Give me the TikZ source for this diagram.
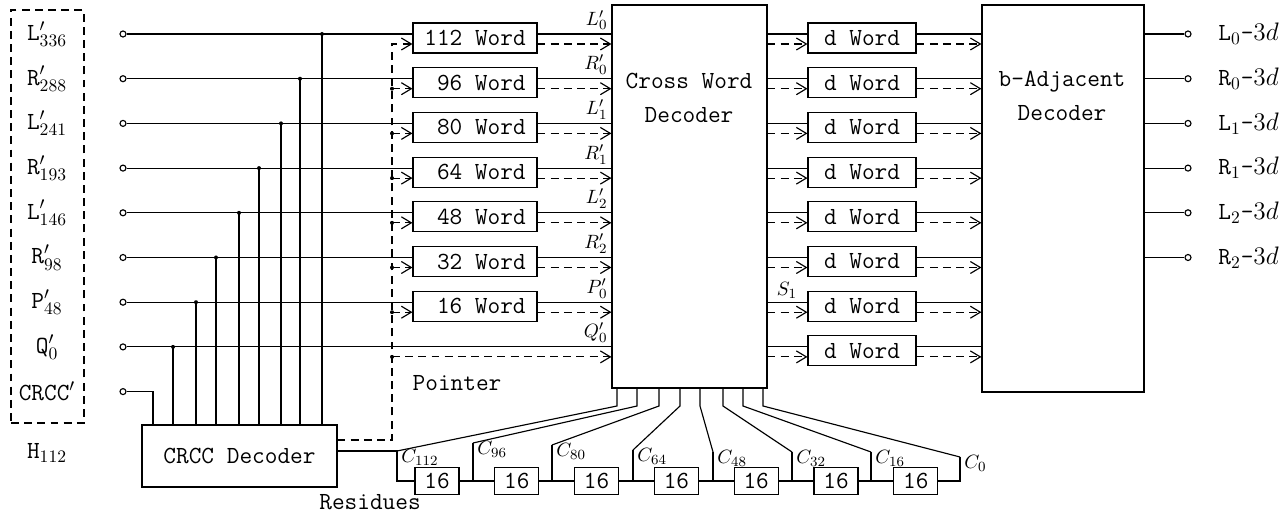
\documentclass[tikz,border=0pt]{standalone}
\usepackage{fontspec}
\setmainfont{Liberation Serif}
\usetikzlibrary{arrows.meta, positioning, calc}

\begin{document}
\begin{tikzpicture}[
    x=0.02cm, y=-0.02cm,
    font=\ttfamily\fontsize{14}{19}\selectfont,
    line width=0.65pt,
    wordbox/.style={rectangle, draw, minimum width=2.48cm, minimum height=0.6cm, inner sep=0pt},
    dbox/.style={rectangle, draw, minimum width=2.16cm, minimum height=0.6cm, inner sep=0pt},
    regbox/.style={rectangle, draw, minimum width=0.88cm, minimum height=0.54cm, inner sep=0pt},
    bigbox/.style={rectangle, draw, inner sep=0pt},
    term/.style={circle, draw, fill=white, inner sep=0pt, minimum size=0.12cm},
    tap/.style={circle, fill, inner sep=0pt, minimum size=0.08cm},
    ptr/.style={dash pattern=on 4.5pt off 3pt},
    arr/.style={-{Straight Barb[length=2mm, width=2.4mm]}},
    hand/.style={font=\fontsize{11}{13}\selectfont}
]
\useasboundingbox (0,0) rectangle (1287,516);

% decoders
\node[bigbox, minimum width=3.1cm, minimum height=7.66cm] (cwd) at (689.5,196.5) {};
\node[align=center] (cwdtxt) at (689,98) {Cross Word\\Decoder};
\node[bigbox, minimum width=3.24cm, minimum height=7.74cm] (bad) at (1063,198.5) {};
\node[align=center] (badtxt) at (1062,96) {b-Adjacent\\Decoder};
\node[bigbox, minimum width=3.9cm, minimum height=1.24cm] (crcc) at (239.5,456) {CRCC Decoder};

% received symbols
\node[draw, ptr, minimum width=1.46cm, minimum height=8.26cm] (inbox) at (47.5,216.5) {};
\foreach \i/\lab/\tx in {0/{L$'_{336}$}/322, 1/{R$'_{288}$}/300, 2/{L$'_{241}$}/281,
                          3/{R$'_{193}$}/259, 4/{L$'_{146}$}/239, 5/{R$'_{98}$}/216,
                          6/{P$'_{48}$}/196, 7/{Q$'_{0}$}/173, 8/{CRCC$'$}/153}
{
  \pgfmathsetmacro{\yy}{34+44.7*\i}
  \node (lab\i) at (47,\yy) {\lab};
  \node[term] (in\i) at (123,\yy) {};
  \coordinate (tap\i) at (\tx,\yy);
  \coordinate (pd\i) at (392,\yy+10);
}
\node (h112) at (47,453) {H$_{112}$};

% delay lines
\foreach \i/\w in {0/112, 1/\phantom{1}96, 2/\phantom{1}80, 3/\phantom{1}64,
                   4/\phantom{1}48, 5/\phantom{1}32, 6/\phantom{1}16}
  \node[wordbox] (wb\i) at (475,34+44.7*\i+4) {\w{} Word};
\foreach \i in {0,...,7}
  \node[dbox] (db\i) at (862,34+44.7*\i+4) {d Word};

% taps to the CRCC decoder
\foreach \i in {0,...,7} {
  \node[tap] (tdot\i) at (tap\i) {};
  \draw (tap\i) -- (tap\i |- crcc.north);
}
\draw (in8) -- (tap8) -- (tap8 |- crcc.north);

% pointer
\coordinate (pcorner) at (392,440);
\draw[ptr, arr] (crcc.east |- pcorner) -- (pcorner) -- (pd0) -- (pd0 -| wb0.west);
\foreach \i in {1,...,6} {
  \node[tap] (pdot\i) at (pd\i) {};
  \draw[ptr, arr] (pd\i) -- (pd\i -| wb\i.west);
}
\node[tap] (pdot7) at (pd7) {};
\node (pointer) at (457,383) {Pointer};

% inputs through the delay lines
\foreach \i in {0,...,6} {
  \draw (in\i) -- (in\i -| wb\i.west);
  \draw (wb\i.east |- in\i) -- (cwd.west |- in\i);
  \draw[ptr, arr] (pd\i -| wb\i.east) -- (pd\i -| cwd.west);
}
\draw (in7) -- (in7 -| cwd.west);
\draw[ptr, arr] (pd7) -- (pd7 -| cwd.west);

\foreach \i/\lab in {0/{$L'_0$}, 1/{$R'_0$}, 2/{$L'_1$}, 3/{$R'_1$},
                     4/{$L'_2$}, 5/{$R'_2$}, 6/{$P'_0$}, 7/{$Q'_0$}}
  \node[hand, anchor=south east, inner sep=2pt] (ol\i) at (cwd.west |- in\i) {\lab};

% cross word decoder to b-adjacent decoder
\foreach \i in {0,...,7} {
  \draw (cwd.east |- in\i) -- (db\i.west |- in\i);
  \draw[ptr, arr] (cwd.east |- pd\i) -- (db\i.west |- pd\i);
  \draw (db\i.east |- in\i) -- (bad.west |- in\i);
  \draw[ptr, arr] (db\i.east |- pd\i) -- (bad.west |- pd\i);
}
\node[hand, anchor=south west, inner sep=2pt, xshift=3pt] (s1) at (cwd.east |- in6) {$S_1$};

% outputs
\foreach \i/\lab in {0/{L$_0$-$3d$}, 1/{R$_0$-$3d$}, 2/{L$_1$-$3d$},
                     3/{R$_1$-$3d$}, 4/{L$_2$-$3d$}, 5/{R$_2$-$3d$}}
{
  \node[term] (out\i) at (1188,34+44.7*\i) {};
  \draw (bad.east |- out\i) -- (out\i);
  \node[anchor=west] (olab\i) at (1212,34+44.7*\i) {\lab};
}

% residue registers
\foreach \k in {0,...,6}
  \node[regbox] (reg\k) at (437+79.8*\k,481) {16};
\foreach \k/\sx/\cx/\cy/\lab in {0/617/397/451/112, 1/637/473/443/96, 2/659/552/445/80,
                                 3/680/633/450/64, 4/700/713/452/48, 5/723/792/452/32,
                                 6/743/871/452/16, 7/763/960/457/0}
{
  \coordinate (st\k) at (\sx,406);
  \coordinate (ct\k) at (\cx,\cy);
  \draw (cwd.south -| st\k) -- (st\k) -- (ct\k);
  \node[hand, anchor=west, inner sep=1pt] (cl\k) at ($(ct\k)+(2,6)$) {$C_{\lab}$};
}
\draw (crcc.east |- ct0) -- (ct0) -- (ct0 |- reg0.west) -- (reg0.west);
\foreach \k [evaluate=\k as \n using int(\k+1)] in {0,...,5} {
  \draw (reg\k.east) -- (reg\n.west);
  \draw (ct\n) -- (ct\n |- reg\k.east);
}
\draw (reg6.east) -- (reg6.east -| ct7) -- (ct7);
\node (residues) at (370,502) {Residues};
\end{tikzpicture}
\end{document}
